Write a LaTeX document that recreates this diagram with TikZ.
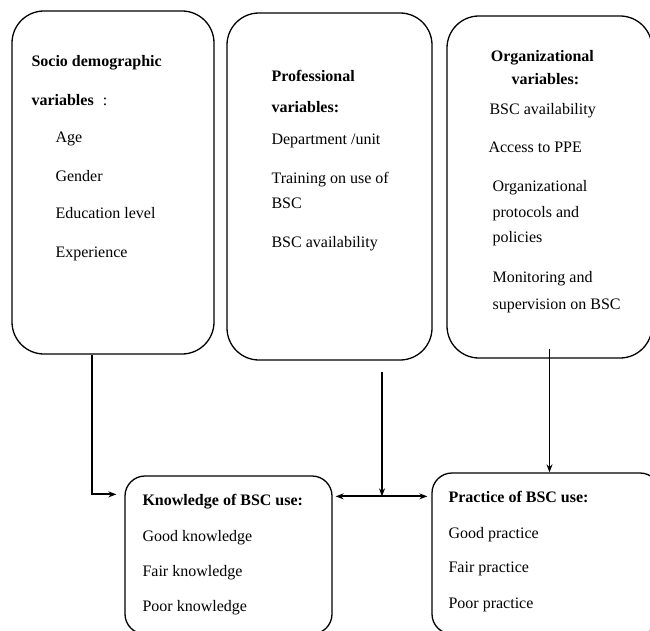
\documentclass[tikz,border=0pt]{standalone}
\usepackage{fontspec}
\setmainfont{Liberation Serif}
\usepackage{tikz}
\usetikzlibrary{calc}
\usetikzlibrary{arrows.meta}

\begin{document}
\begin{tikzpicture}[x=1pt, y=-1pt,
	bigbox/.style={draw, line width=1.3pt, rounded corners=32pt},
	smallbox/.style={draw, line width=1.3pt, rounded corners=20pt},
	txt/.style={anchor=base west, inner sep=0pt, font=\fontsize{16}{19}\selectfont},
	ctxt/.style={anchor=base, inner sep=0pt, font=\fontsize{16}{19}\selectfont},
	arr/.style={line width=1.4pt, -{Stealth[length=8pt,width=6pt]}},
	thickarr/.style={line width=2.2pt, -{Stealth[length=8pt,width=6pt]}}]
			\useasboundingbox (0,0) rectangle (650,631);

			% upper boxes
			\node[bigbox, minimum width=202pt, minimum height=343pt] (socio) at (113,182.5) {};
			\node[bigbox, minimum width=205pt, minimum height=347pt] (prof) at (329.5,186.5) {};
			\node[bigbox, minimum width=205pt, minimum height=342pt] (org) at (549.5,187) {};

			% lower boxes
			\node[smallbox, minimum width=207pt, minimum height=158pt] (know) at (228.5,555) {};
			\node[smallbox, minimum width=228pt, minimum height=161pt] (prac) at (546,553.5) {};

			% socio demographic
			\node[txt] (s0) at ($(socio.north west)+(20,56)$) {\textbf{Socio demographic}};
			\node[txt] (s1) at ($(socio.north west)+(20,95)$) {\textbf{variables}\hspace{9pt}:};
			\node[txt] (s2) at ($(socio.north west)+(44,132)$) {Age};
			\node[txt] (s3) at ($(socio.north west)+(44,171)$) {Gender};
			\node[txt] (s4) at ($(socio.north west)+(44,208)$) {Education level};
			\node[txt] (s5) at ($(socio.north west)+(44,247)$) {Experience};

			% professional
			\node[txt] (p0) at ($(prof.north west)+(45,69)$) {\textbf{Professional}};
			\node[txt] (p1) at ($(prof.north west)+(45,100)$) {\textbf{variables:}};
			\node[txt] (p2) at ($(prof.north west)+(45,132)$) {Department /unit};
			\node[txt] (p3) at ($(prof.north west)+(45,171)$) {Training on use of};
			\node[txt] (p4) at ($(prof.north west)+(45,196)$) {BSC};
			\node[txt] (p5) at ($(prof.north west)+(45,235)$) {BSC availability};

			% organizational
			\node[ctxt] (o0) at ($(org.north west)+(96,46)$) {\textbf{Organizational}};
			\node[ctxt] (o1) at ($(org.north west)+(99,69)$) {\textbf{variables:}};
			\node[txt] (o2) at ($(org.north west)+(43,99)$) {BSC availability};
			\node[txt] (o3) at ($(org.north west)+(42,137)$) {Access to PPE};
			\node[txt] (o4) at ($(org.north west)+(46,176)$) {Organizational};
			\node[txt] (o5) at ($(org.north west)+(46,202)$) {protocols and};
			\node[txt] (o6) at ($(org.north west)+(46,227)$) {policies};
			\node[txt] (o7) at ($(org.north west)+(46,267)$) {Monitoring and};
			\node[txt] (o8) at ($(org.north west)+(46,294)$) {supervision on BSC};

			% knowledge
			\node[txt] (k0) at ($(know.north west)+(18,30)$) {\textbf{Knowledge of BSC use:}};
			\node[txt] (k1) at ($(know.north west)+(18,66)$) {Good knowledge};
			\node[txt] (k2) at ($(know.north west)+(18,101)$) {Fair knowledge};
			\node[txt] (k3) at ($(know.north west)+(18,136)$) {Poor knowledge};

			% practice
			\node[txt] (r0) at ($(prac.north west)+(17,30)$) {\textbf{Practice of BSC use:}};
			\node[txt] (r1) at ($(prac.north west)+(17,66)$) {Good practice};
			\node[txt] (r2) at ($(prac.north west)+(17,100)$) {Fair practice};
			\node[txt] (r3) at ($(prac.north west)+(17,136)$) {Poor practice};

			% connector points
			\coordinate (sout) at ($(socio.south west)+(81,0)$);
			\coordinate (kin) at ($(know.north west)+(-8,19)$);
			\coordinate (kout) at ($(know.north east)+(3,21)$);
			\coordinate (pin) at ($(prac.north west)+(-4,24)$);
			\coordinate (ptop) at (382,372);
			\coordinate (pmid) at (ptop |- kout);
			\coordinate (oout) at ($(org.south)+(0,-10)$);
			\coordinate (otop) at (oout |- prac.north);

			\draw[thickarr] (sout) |- (kin);
			\draw[thickarr, {Stealth[length=8pt,width=6pt]}-{Stealth[length=8pt,width=6pt]}] (kout) -- (pin);
			\draw[arr] (ptop) -- (pmid);
			\draw[arr] (oout) -- (otop);

		\end{tikzpicture}
\end{document}
